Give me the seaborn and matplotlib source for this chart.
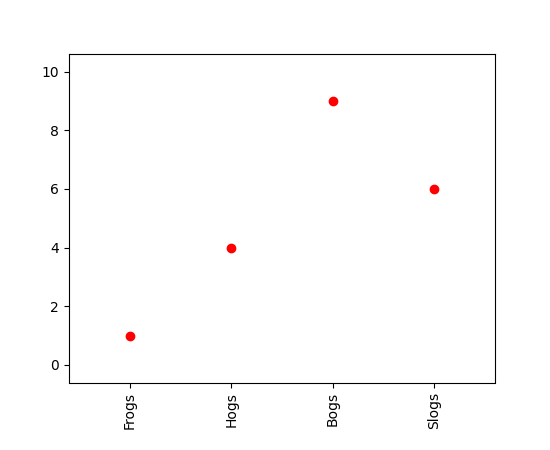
import matplotlib
matplotlib.use("Agg")
import matplotlib.pyplot as plt
import seaborn as sns

# ----------------------------
# DATA
# ----------------------------
x = [1, 2, 3, 4]
y = [1, 4, 9, 6]
labels = ["Frogs", "Hogs", "Bogs", "Slogs"]

# ----------------------------
# PLOT
# ----------------------------
fig, ax = plt.subplots(figsize=(5.5, 4.5), dpi=100)
sns.scatterplot(x=x, y=y, color="red", edgecolor="red", linewidth=1, s=36, ax=ax)

ax.set_xticks(x)
ax.set_xticklabels(labels, rotation="vertical")
ax.margins(0.2)
fig.subplots_adjust(bottom=0.15)

fig.savefig("out.png")
plt.close(fig)
